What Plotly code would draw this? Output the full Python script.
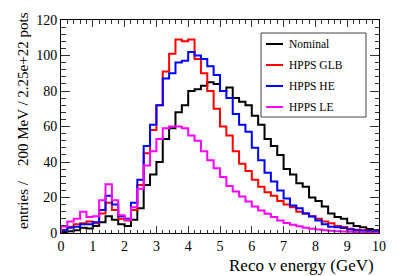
import numpy as np
import plotly.graph_objects as go

# Bin edges: 200 MeV bins from 0 to 10 GeV
bin_edges = np.round(np.arange(0, 10.0001, 0.2), 3)

series_names = ["Nominal", "HPPS GLB", "HPPS HE", "HPPS LE"]
series_colors = ["#000000", "#ff0000", "#0000ff", "#ff00ff"]

nominal = [0.5, 1, 1.5, 3, 2.5, 4, 6, 9.5, 7.5, 5, 4, 7.5, 14, 27, 33, 40, 53, 59, 68, 72,
           80, 81, 83, 85, 84, 80, 82, 76, 74, 72, 66, 61, 53, 49, 44, 36, 33, 28, 26, 20,
           18, 15, 11, 9, 8, 5.5, 4, 3.3, 2.2, 1.5]
hpps_glb = [1.5, 3.5, 5, 5.5, 6.5, 5.5, 11, 17, 13, 8, 7, 13, 27, 45, 58, 72, 91, 101, 109, 108,
            109, 98, 90, 80, 70, 60, 55, 46, 39, 35, 30, 26, 23, 21, 18, 16, 14.5, 12, 11, 9.5,
            8, 6.5, 5.5, 4, 3.4, 2.4, 1.9, 1.5, 1.1, 0.9]
hpps_he = [1.5, 3, 3.5, 5, 5, 6, 13, 21, 16, 9.5, 8, 17, 30, 49, 61, 72, 87, 90, 96, 97,
           102, 100, 98, 94, 89, 80, 76, 67, 61, 57, 48, 41, 34, 29, 24, 19.5, 15.5, 14, 11, 9.3,
           7, 5, 3.5, 3.2, 2.8, 2, 1.5, 1.3, 1.0, 0.8]
hpps_le = [3.7, 6.5, 8, 12, 9, 9.5, 18.5, 27.5, 18.5, 10, 7.5, 14.5, 25, 38, 46, 53, 59, 60, 60, 59,
           55, 52, 46, 41, 36.5, 31.5, 26.5, 23.4, 20.6, 17.8, 15, 12.7, 10.8, 9, 7.1, 5.6, 4.7, 3.8, 3, 2.4,
           2, 1.6, 1.3, 1.0, 0.8, 0.7, 0.5, 0.4, 0.3, 0.2]

series_values = [nominal, hpps_glb, hpps_he, hpps_le]

x_tick_vals = list(range(0, 11))
y_tick_vals = [0, 20, 40, 60, 80, 100, 120]

FONT = "Liberation Serif, Times New Roman, serif"

fig = go.Figure()
for name, color, vals in zip(series_names, series_colors, series_values):
    xs = [bin_edges[0]] + list(bin_edges) + [bin_edges[-1]]
    ys = [0] + list(vals) + [vals[-1], 0]
    fig.add_trace(go.Scatter(x=xs, y=ys, mode="lines", name=name,
                             line=dict(color=color, width=2, shape="hv"),
                             showlegend=False, hoverinfo="skip"))

# page body has an 8px margin; target plot frame in page pixels: x 61..379, y 20..233
OFF = 8
PAGE_W, PAGE_H = 407, 276
W, H = PAGE_W - OFF, PAGE_H - OFF
L = 61 - OFF
T = 20 - OFF
pw = 379 - 61
ph = 233 - 20
R = W - L - pw
B = H - T - ph

def px(p):
    return (p - OFF - L) / pw

def py(q):
    return (T + ph - (q - OFF)) / ph

fig.update_layout(
    width=W, height=H,
    margin=dict(l=L, r=R, t=T, b=B, autoexpand=False),
    paper_bgcolor="white", plot_bgcolor="white",
    font=dict(family=FONT, color="black", size=14),
    xaxis=dict(range=[0, 10], tickvals=x_tick_vals, ticks="inside", ticklen=7, tickwidth=1,
               tickcolor="#333", showline=True, linecolor="black", linewidth=1, mirror="ticks",
               showgrid=False, zeroline=False, tickfont=dict(size=14, family=FONT),
               minor=dict(dtick=0.2, ticks="inside", ticklen=3.5, tickcolor="#333", showgrid=False)),
    yaxis=dict(range=[0, 120], tickvals=y_tick_vals, ticks="inside", ticklen=9, tickwidth=1,
               tickcolor="#333", showline=True, linecolor="black", linewidth=1, mirror="ticks",
               showgrid=False, zeroline=False, tickfont=dict(size=14, family=FONT),
               minor=dict(dtick=4, ticks="inside", ticklen=4.5, tickcolor="#333", showgrid=False)),
)

# axis titles (ROOT style: aligned to the axis end)
fig.add_annotation(text="Reco \u03bd energy (GeV)", xref="paper", yref="paper",
                   x=px(376), y=py(265), xanchor="right", yanchor="middle",
                   showarrow=False, font=dict(size=17, family=FONT))
fig.add_annotation(text="entries /\u00a0\u00a0\u00a0 200 MeV / 2.25e+22 pots", xref="paper", yref="paper",
                   x=px(23), y=py(121), xanchor="center", yanchor="middle", textangle=-90,
                   showarrow=False, font=dict(size=15, family=FONT))

# legend box
lx0, lx1, ly0, ly1 = 261, 366, 33, 117
fig.add_shape(type="rect", xref="paper", yref="paper", x0=px(lx0), x1=px(lx1), y0=py(ly1), y1=py(ly0),
              line=dict(color="#444", width=1), fillcolor="white", layer="above")
row_y = [44, 65, 86, 107]
for name, color, ry in zip(series_names, series_colors, row_y):
    fig.add_shape(type="line", xref="paper", yref="paper", x0=px(266), x1=px(283), y0=py(ry), y1=py(ry),
                  line=dict(color=color, width=2), layer="above")
    fig.add_annotation(text=name, xref="paper", yref="paper", x=px(287), y=py(ry),
                       xanchor="left", yanchor="middle", showarrow=False,
                       font=dict(size=11.5, family=FONT))

fig.write_html("out.html")
